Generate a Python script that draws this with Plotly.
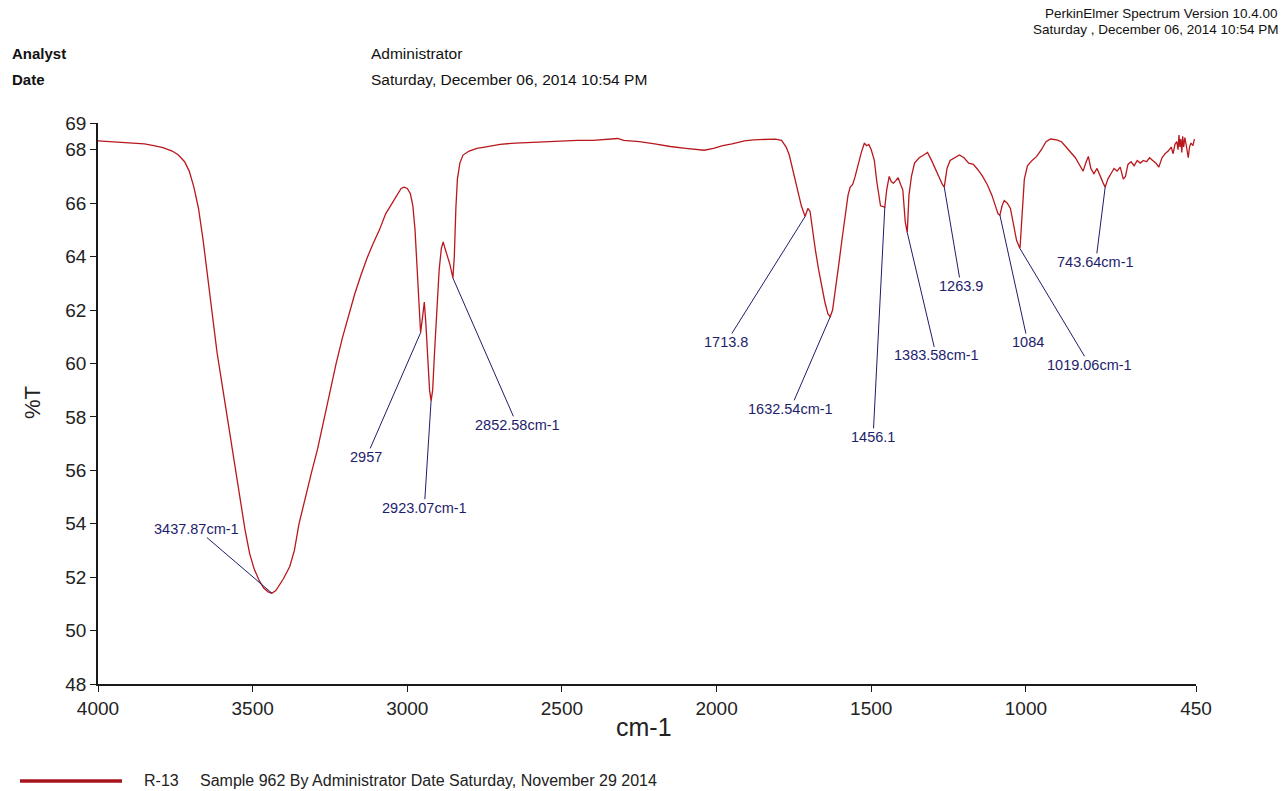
import numpy as np
import plotly.graph_objects as go

# ---- spectrum data (wavenumber in cm-1, %T) ----
wavenumber = [
    4000, 3960, 3920, 3880, 3850, 3820, 3790, 3760, 3740, 3720, 3705, 3690,
    3675, 3660, 3645, 3630, 3615, 3600, 3585, 3570, 3555, 3540, 3525, 3510,
    3495, 3480, 3465, 3450, 3437.87, 3425, 3410, 3400, 3380, 3365, 3350, 3330,
    3310, 3290, 3270, 3250, 3230, 3210, 3190, 3170, 3150, 3130, 3110, 3090,
    3070, 3050, 3035, 3020, 3010, 3000, 2990, 2982, 2975, 2968, 2962, 2957,
    2950, 2945, 2940, 2935, 2928, 2923.07, 2918, 2912, 2905, 2897, 2890, 2884,
    2878, 2870, 2862, 2852.58, 2848, 2843, 2838, 2830, 2820, 2800, 2775, 2750,
    2700, 2650, 2600, 2550, 2500, 2450, 2400, 2350, 2320, 2300, 2250, 2200,
    2150, 2100, 2060, 2040, 2010, 1980, 1950, 1910, 1880, 1850, 1810, 1790,
    1775, 1765, 1755, 1745, 1735, 1726, 1713.8, 1705, 1698, 1690, 1680, 1670,
    1660, 1650, 1640, 1632.54, 1625, 1615, 1605, 1595, 1585, 1575, 1568, 1560,
    1552, 1542, 1532, 1522, 1515, 1508, 1500, 1490, 1482, 1470, 1456.1, 1450,
    1442, 1435, 1428, 1420, 1413, 1405, 1398, 1390, 1383.58, 1378, 1370, 1360,
    1345, 1330, 1318, 1305, 1290, 1280, 1270, 1263.9, 1255, 1245, 1230, 1215,
    1200, 1185, 1170, 1155, 1140, 1125, 1110, 1100, 1090, 1084, 1077, 1070,
    1060, 1050, 1040, 1030, 1019.06, 1012, 1005, 995, 980, 965, 950, 935,
    920, 900, 885, 870, 855, 840, 825, 815, 805, 798, 790, 780,
    770, 760, 750, 743.64, 735, 725, 715, 705, 695, 685, 678, 670,
    660, 650, 640, 630, 620, 610, 600, 590, 580, 570, 560, 550,
    540, 530, 524, 518, 512, 508, 505, 502, 499, 496, 493, 490,
    486, 482, 478, 475, 471, 466, 460, 455,
]
transmittance = [
    68.33, 68.30, 68.28, 68.25, 68.22, 68.15, 68.08, 67.95, 67.80, 67.55, 67.20, 66.60,
    65.80, 64.60, 63.20, 61.90, 60.40, 59.30, 58.20, 57.10, 55.90, 54.90, 53.80, 52.90,
    52.30, 51.90, 51.60, 51.45, 51.40, 51.50, 51.75, 51.95, 52.40, 53.00, 54.00, 55.00,
    55.90, 56.80, 57.90, 59.00, 60.00, 60.95, 61.80, 62.60, 63.30, 63.95, 64.50, 65.00,
    65.60, 66.00, 66.30, 66.55, 66.60, 66.55, 66.35, 65.90, 65.00, 63.50, 62.20, 61.15,
    61.80, 62.30, 61.50, 60.20, 59.00, 58.60, 59.00, 60.40, 62.00, 63.50, 64.30, 64.55,
    64.30, 64.00, 63.70, 63.20, 64.00, 65.80, 66.90, 67.50, 67.80, 67.95, 68.05, 68.10,
    68.20, 68.25, 68.28, 68.30, 68.33, 68.35, 68.35, 68.38, 68.42, 68.35, 68.30, 68.22,
    68.12, 68.05, 68.00, 67.98, 68.05, 68.15, 68.22, 68.33, 68.37, 68.38, 68.40, 68.35,
    68.10, 67.80, 67.30, 66.90, 66.40, 65.90, 65.50, 65.80, 65.70, 65.00, 64.20, 63.50,
    62.90, 62.30, 61.85, 61.75, 62.00, 62.80, 63.70, 64.60, 65.50, 66.30, 66.60, 66.70,
    67.00, 67.50, 67.90, 68.25, 68.15, 68.20, 68.00, 67.60, 66.80, 65.90, 65.85, 66.50,
    67.00, 66.80, 66.75, 66.85, 66.95, 66.70, 66.50, 65.30, 64.90, 66.30, 67.00, 67.50,
    67.70, 67.80, 67.90, 67.60, 67.20, 66.90, 66.70, 66.60, 67.30, 67.60, 67.70, 67.80,
    67.70, 67.50, 67.45, 67.25, 67.00, 66.70, 66.30, 65.90, 65.60, 65.55, 65.90, 66.10,
    66.00, 65.80, 65.20, 64.60, 64.30, 65.50, 66.90, 67.40, 67.60, 67.75, 68.00, 68.30,
    68.40, 68.37, 68.30, 68.10, 67.90, 67.70, 67.40, 67.20, 67.55, 67.75, 67.30, 67.10,
    67.30, 67.00, 66.75, 66.60, 66.90, 67.10, 67.30, 67.20, 67.35, 66.90, 67.00, 67.45,
    67.55, 67.40, 67.60, 67.50, 67.60, 67.55, 67.70, 67.60, 67.50, 67.35, 67.70, 67.85,
    67.95, 68.10, 67.85, 68.20, 68.30, 68.00, 68.55, 68.10, 68.40, 67.90, 68.50, 68.10,
    68.45, 68.20, 67.90, 67.70, 68.10, 68.25, 68.15, 68.40,
]

# ---- peak picks ----
peak_wavenumbers = [3437.87, 2957, 2923.07, 2852.58, 1713.8, 1632.54,
                    1456.1, 1383.58, 1263.9, 1084, 1019.06, 743.64]
peak_labels = ["3437.87cm-1", "2957", "2923.07cm-1", "2852.58cm-1", "1713.8",
               "1632.54cm-1", "1456.1", "1383.58cm-1", "1263.9", "1084",
               "1019.06cm-1", "743.64cm-1"]

# where each peak label sits (cm-1, %T)
label_anchor = [(3680, 53.8), (3132, 56.5), (2945, 54.6), (2645, 57.7),
                (1968, 60.8), (1761, 58.3), (1494, 57.25), (1290, 60.3),
                (1210, 62.9), (994, 60.8), (794, 59.95), (774, 63.8)]

x_ticks = [4000, 3500, 3000, 2500, 2000, 1500, 1000, 450]
y_ticks = [48, 50, 52, 54, 56, 58, 60, 62, 64, 66, 68, 69]

LINE_RED = "#b8181d"
NAVY = "#1d1d6b"
FONT = "Liberation Sans, Arial, sans-serif"

W, H = 1284, 791
L, R, T, B = 98, 88, 123, 107
PW, PH = W - L - R, H - T - B


def px(x):
    return (x - L) / PW


def py(y):
    return (H - B - y) / PH


fig = go.Figure()
fig.add_trace(go.Scatter(
    x=wavenumber, y=transmittance, mode="lines",
    line=dict(color=LINE_RED, width=1.3), showlegend=False, hoverinfo="skip",
))

wn_inc = np.array(wavenumber[::-1], dtype=float)
tr_inc = np.array(transmittance[::-1], dtype=float)

annotations = []
for wn, lab, (ax, ay) in zip(peak_wavenumbers, peak_labels, label_anchor):
    t = float(np.interp(wn, wn_inc, tr_inc))
    annotations.append(dict(
        x=wn, y=t, xref="x", yref="y", ax=ax, ay=ay, axref="x", ayref="y",
        text=lab, showarrow=True, arrowhead=0, arrowwidth=1, arrowcolor=NAVY,
        standoff=0, startstandoff=0, borderpad=0,
        font=dict(family=FONT, size=14.5, color=NAVY),
    ))

# header block
hdr = [
    ("<b>Analyst</b>", 10, 54, "left", 15),
    ("<b>Date</b>", 10, 79, "left", 15),
    ("Administrator", 369, 54, "left", 15.5),
    ("Saturday, December 06, 2014 10:54 PM", 369, 79, "left", 15.5),
    ("PerkinElmer Spectrum Version 10.4.00", 1280, 14, "right", 13.5),
    ("Saturday , December 06, 2014 10:54 PM", 1280, 29, "right", 13.5),
]
for txt, x, y, anc, sz in hdr:
    annotations.append(dict(
        text=txt, x=px(x), y=py(y), xref="paper", yref="paper",
        xanchor=anc, yanchor="middle", showarrow=False,
        font=dict(family=FONT, size=sz, color="#111111"),
    ))

# axis titles
annotations.append(dict(
    text="cm-1", x=px(644), y=py(727), xref="paper", yref="paper",
    xanchor="center", yanchor="middle", showarrow=False,
    font=dict(family=FONT, size=25, color="#222222"),
))
annotations.append(dict(
    text="%T", x=px(32), y=py(403), xref="paper", yref="paper",
    xanchor="center", yanchor="middle", showarrow=False, textangle=-90,
    font=dict(family=FONT, size=22, color="#222222"),
))

# sample key at the bottom
annotations.append(dict(
    text="R-13", x=px(142), y=py(780), xref="paper", yref="paper",
    xanchor="left", yanchor="middle", showarrow=False,
    font=dict(family=FONT, size=16, color="#222222"),
))
annotations.append(dict(
    text="Sample 962 By Administrator Date Saturday, November 29 2014",
    x=px(198), y=py(780), xref="paper", yref="paper",
    xanchor="left", yanchor="middle", showarrow=False,
    font=dict(family=FONT, size=16, color="#222222"),
))

shapes = [dict(
    type="line", xref="paper", yref="paper",
    x0=px(20), x1=px(122), y0=py(781), y1=py(781),
    line=dict(color="#a8141c", width=3.5),
)]

axis_common = dict(
    showgrid=False, zeroline=False, showline=True, linecolor="#1a1a1a",
    linewidth=1.5, ticks="outside", ticklen=6, tickwidth=1.2,
    tickcolor="#1a1a1a", tickfont=dict(family=FONT, size=19, color="#222222"),
)

fig.update_layout(
    width=W, height=H, margin=dict(l=L, r=R, t=T, b=B, autoexpand=False),
    paper_bgcolor="white", plot_bgcolor="white",
    xaxis=dict(range=[4000, 450], tickvals=x_ticks,
               ticktext=[str(v) for v in x_ticks], **axis_common),
    yaxis=dict(range=[48, 69], tickvals=y_ticks,
               ticktext=[str(v) for v in y_ticks], **axis_common),
    annotations=annotations, shapes=shapes, showlegend=False,
)

fig.write_html("out.html", config={"displayModeBar": False})
